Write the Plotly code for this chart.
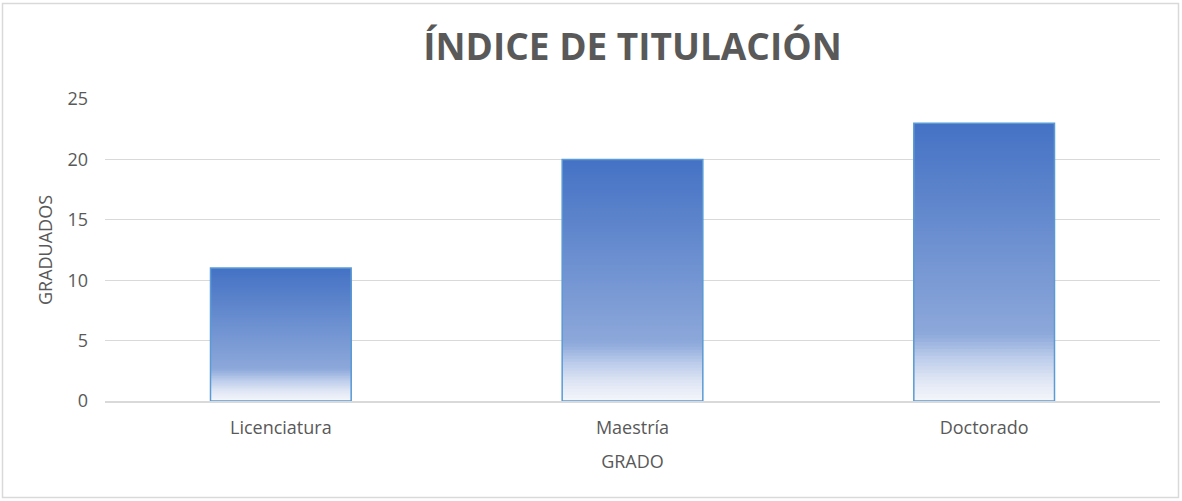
import plotly.graph_objects as go

# ---- data ----
categories = ["Licenciatura", "Maestría", "Doctorado"]
graduados = [11, 20, 23]
y_ticks = [0, 5, 10, 15, 20, 25]
title_text = "ÍNDICE DE TITULACIÓN"
x_title = "GRADO"
y_title = "GRADUADOS"

# ---- style ----
W, H = 1182, 501
ML, MR, MT, MB = 105, 22, 99, 100
FONT = "Open Sans"
GRAY = "#595959"

# gradient stops: (relative position from bar bottom, rgb)
stops = [
    (0.00, (244, 246, 251)),
    (0.08, (222, 229, 244)),
    (0.16, (186, 203, 234)),
    (0.24, (141, 168, 218)),
    (1.00, (68, 114, 196)),
]


def grad_color(t):
    for (t0, c0), (t1, c1) in zip(stops[:-1], stops[1:]):
        if t <= t1:
            f = (t - t0) / (t1 - t0)
            c = [round(a + (b - a) * f) for a, b in zip(c0, c1)]
            return "rgb({},{},{})".format(*c)
    return "rgb({},{},{})".format(*stops[-1][1])


N = 80
fig = go.Figure()
# draw progressively shorter bars: each covers the lower part with a lighter colour
for k in range(N):
    frac = (N - k) / N
    t = (N - k - 0.5) / N
    fig.add_trace(go.Bar(
        x=categories,
        y=[v * frac for v in graduados],
        marker=dict(color=grad_color(t), line=dict(width=0)),
        hoverinfo="skip",
        showlegend=False,
    ))
# outline
fig.add_trace(go.Bar(
    x=categories,
    y=graduados,
    marker=dict(color="rgba(0,0,0,0)", line=dict(color="#5B9BD5", width=1.5)),
    showlegend=False,
))

pw = W - ML - MR
ph = H - MT - MB
fig.add_shape(
    type="rect", xref="paper", yref="paper",
    x0=-(ML - 2.5) / pw, x1=1 + (MR - 3.5) / pw,
    y0=-(MB - 3.5) / ph, y1=1 + (MT - 3.5) / ph,
    line=dict(color="#D9D9D9", width=1.5), fillcolor="rgba(0,0,0,0)",
    layer="below",
)

fig.update_layout(
    width=W, height=H,
    margin=dict(l=ML, r=MR, t=MT, b=MB, autoexpand=False),
    barmode="overlay",
    bargap=0.6,
    paper_bgcolor="white",
    plot_bgcolor="white",
    font=dict(family=FONT, color=GRAY, size=18),
    title=dict(
        text=title_text,
        x=0.5, xanchor="center", xref="paper",
        y=1 - 47 / H, yanchor="middle", yref="container",
        font=dict(family=FONT, size=37, color=GRAY, weight="bold"),
    ),
    xaxis=dict(
        title=dict(text=x_title, font=dict(size=18, color=GRAY), standoff=17),
        showgrid=False,
        showline=True, linecolor="#D9D9D9", linewidth=1.5,
        ticks="", ticklabelstandoff=10,
        tickfont=dict(size=18, color=GRAY),
        range=[-0.5, 2.5],
    ),
    yaxis=dict(
        title=dict(text=y_title, font=dict(size=18, color=GRAY), standoff=10),
        range=[0, 25],
        tickvals=y_ticks,
        showgrid=True, gridcolor="#D9D9D9", gridwidth=1,
        zeroline=False, showline=False,
        ticks="", ticklabelstandoff=16,
        tickfont=dict(size=18, color=GRAY),
    ),
)

fig.write_html("out.html", config={"displayModeBar": False},
               post_script="document.body.style.margin='0';")
